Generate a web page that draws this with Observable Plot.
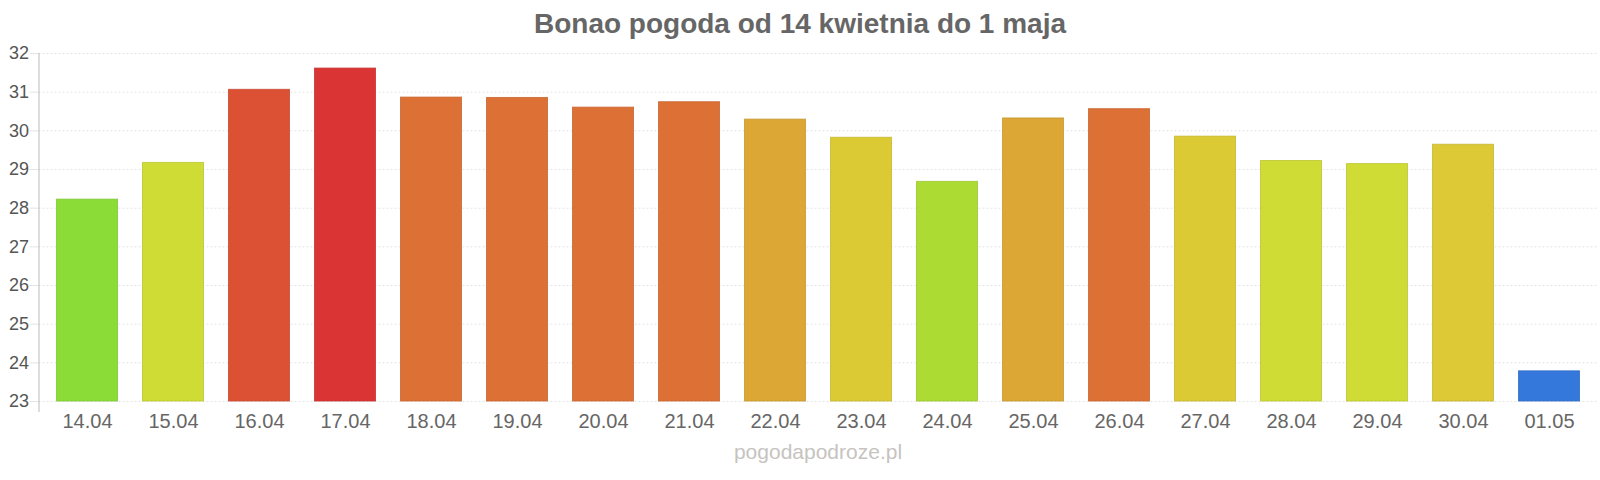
<!DOCTYPE html>
<html>
<head>
<meta charset="utf-8">
<script src="https://cdn.jsdelivr.net/npm/d3@7"></script>
<script src="https://cdn.jsdelivr.net/npm/@observablehq/plot@0.6"></script>
<style>
  html, body { margin: 0; padding: 0; background: #fff; }
  body { width: 1600px; height: 480px; overflow: hidden; font-family: "Liberation Sans", Arial, sans-serif; }
  #title { height: 44px; line-height: 47px; text-align: center; font-size: 28px; font-weight: bold; color: #666; overflow: visible; white-space: nowrap; }
  #footer { height: 44px; line-height: 32px; padding-left: 38px; padding-right: 2px; text-align: center; font-size: 21px; color: #c6c3c0; white-space: nowrap; }
  #chart svg { display: block; max-width: none !important; width: 1600px; height: 392px; }
</style>
</head>
<body>
<div id="title">Bonao pogoda od 14 kwietnia do 1 maja</div>
<div id="chart"></div>
<div id="footer">pogodapodroze.pl</div>
<script>
const dates = ["14.04","15.04","16.04","17.04","18.04","19.04","20.04","21.04","22.04","23.04","24.04","25.04","26.04","27.04","28.04","29.04","30.04","01.05"];
const temps = [28.22, 29.17, 31.06, 31.61, 30.86, 30.85, 30.6, 30.74, 30.29, 29.82, 28.68, 30.32, 30.56, 29.85, 29.22, 29.14, 29.64, 23.78];
const colors = ["#8bdc37","#cfdc35","#dc5034","#db3434","#dd7035","#dd7035","#dd7035","#dd7035","#dca734","#dbca34","#acdc33","#dca734","#dd7035","#dbca34","#cfdc35","#cfdc35","#dcc935","#3478dc"];
const yTicks = [23,24,25,26,27,28,29,30,31,32];

const data = dates.map((d, i) => ({date: d, temp: temps[i], color: colors[i], stroke: d3.color(colors[i]).darker(0.3).formatHex()}));

const chart = Plot.plot({
  width: 1600,
  height: 392,
  marginTop: 9,
  marginBottom: 35,
  marginLeft: 38.5,
  marginRight: 3,
  style: {fontFamily: "Liberation Sans, Arial, sans-serif", color: "#555", background: "#fff"},
  x: {domain: dates, paddingInner: 0.28, paddingOuter: 0.14, label: null},
  y: {domain: [23, 32], label: null},
  marks: [
    Plot.ruleY(yTicks, {stroke: "#e4e4e4", strokeDasharray: "2,2"}),
    Plot.barY(data, {x: "date", y1: 23, y2: "temp", fill: "color", stroke: "stroke", strokeWidth: 1, strokeOpacity: 0.8, insetLeft: 0.5, insetRight: 0.5}),
    Plot.axisY({ticks: yTicks, tickSize: 9, tickPadding: 1, stroke: "#e4e4e4", fontSize: 18, fill: "#555", label: null}),
    Plot.axisX({tickSize: 0, tickPadding: 12, fontSize: 20, fill: "#666", label: null}),
    Plot.frame({anchor: "left", stroke: "#bbb", insetBottom: -10})
  ]
});
document.getElementById("chart").appendChild(chart);
</script>
</body>
</html>
